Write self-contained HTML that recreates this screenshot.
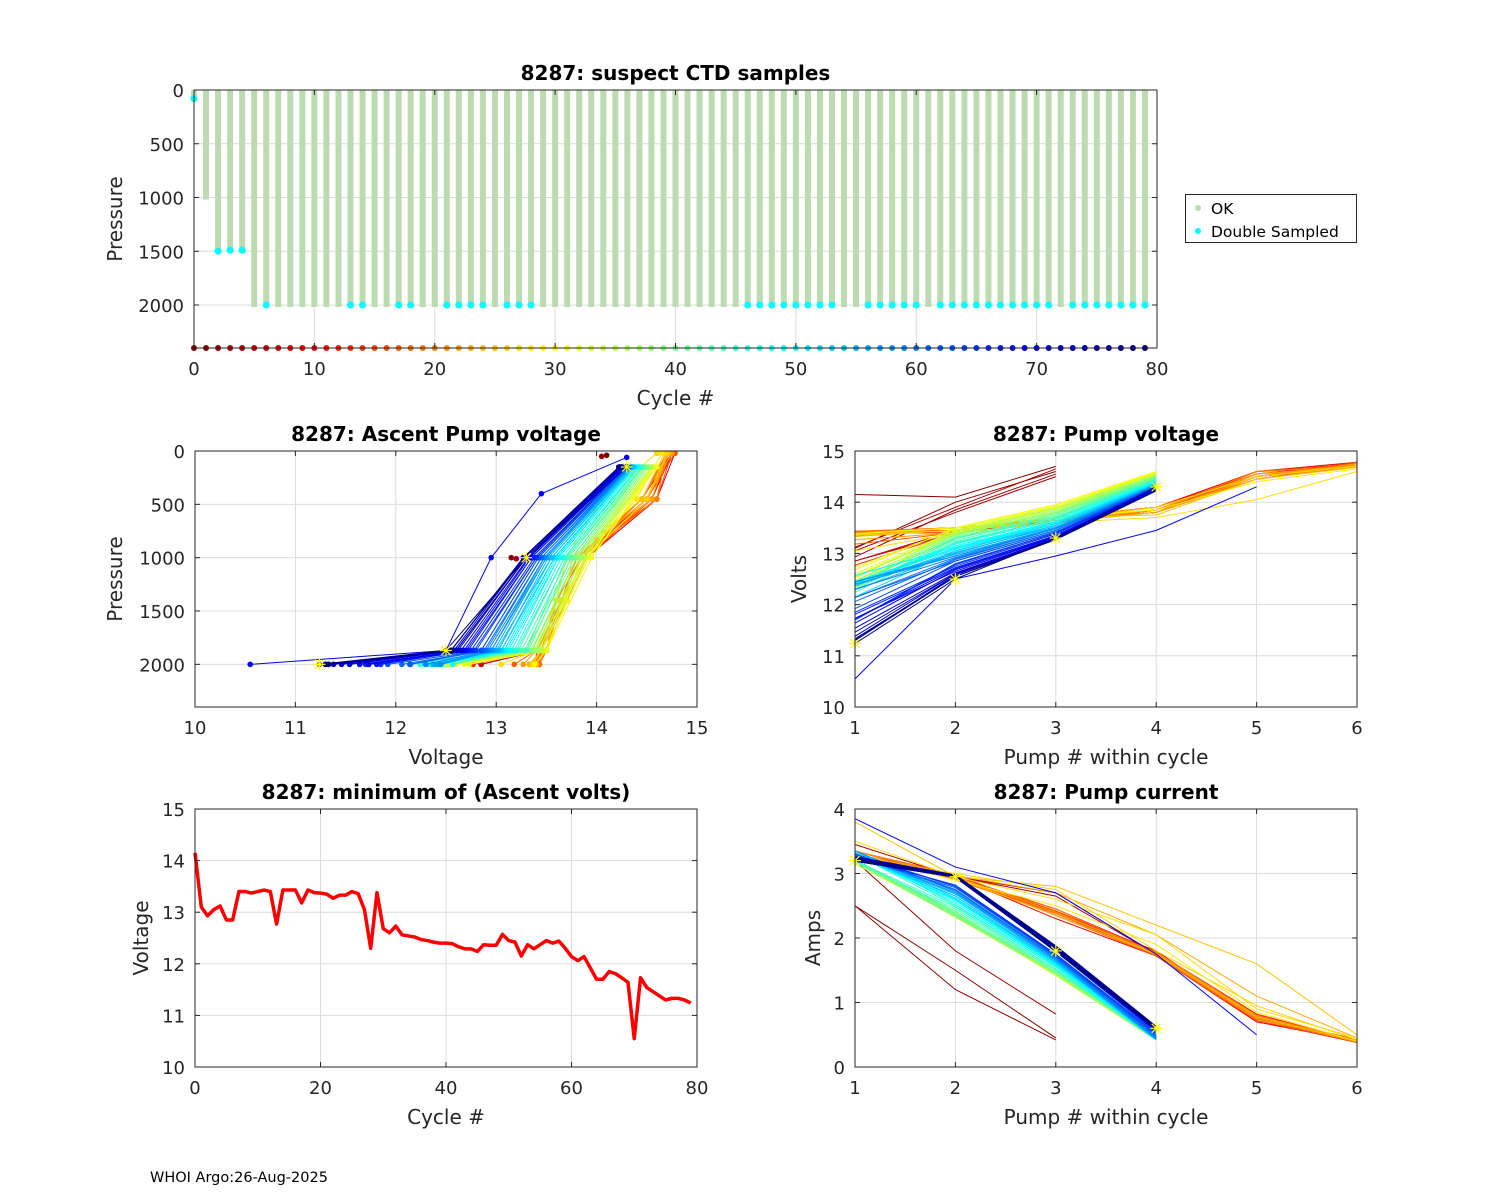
<!DOCTYPE html>
<html><head><meta charset="utf-8">
<style>
body{margin:0;background:#fff;}
svg{display:block;font-family:"DejaVu Sans","Liberation Sans",sans-serif;}
</style></head>
<body>
<svg id="fig" width="1500" height="1200" viewBox="0 0 1500 1200" xmlns="http://www.w3.org/2000/svg">
<rect width="1500" height="1200" fill="#fff"/>
<text x="150" y="1182" font-size="14.5" fill="#000">WHOI Argo:26-Aug-2025</text>
</svg>
<script>
// ===== data =====
const cycles = Array.from({length:80},(_,i)=>i);
const minVolts = [14.15,13.1,12.93,13.05,13.12,12.85,12.85,13.4,13.4,13.37,
13.4,13.43,13.4,12.77,13.43,13.43,13.43,13.18,13.43,13.38,
13.37,13.35,13.27,13.33,13.33,13.4,13.36,13.05,12.3,13.38,
12.68,12.6,12.73,12.56,12.54,12.52,12.47,12.45,12.42,12.4,
12.4,12.39,12.33,12.29,12.29,12.24,12.37,12.36,12.36,12.57,
12.45,12.42,12.15,12.37,12.29,12.37,12.45,12.4,12.44,12.3,
12.14,12.06,12.14,11.92,11.7,11.7,11.85,11.81,11.73,11.64,
10.55,11.73,11.54,11.46,11.38,11.3,11.33,11.33,11.3,11.24];
const maxPressure = [50,1000,1500,1500,1500].concat(Array(75).fill(2000));
const doubleSampled = [6,13,14,17,18,21,22,23,24,26,27,28,46,47,48,49,50,51,52,53,56,57,58,59,60,62,63,64,65,66,67,68,69,70,71,73,74,75,76,77,78,79];
const doubleEarly = [[0,80],[2,1500],[3,1490],[4,1490]];
const N = null;
const pumpV2 = [14.1,14.0,13.85,13.8,13.9,
13.45,13.4,13.5,13.45,13.5,13.4,13.45,13.5,13.4,13.45,
13.5,13.45,13.4,13.5,13.45,13.5,13.45,13.4,13.5,13.45,
13.5,13.45,13.4,13.5,
13.5,13.5,13.45,13.48,13.42,13.4,13.45,13.38,13.4,13.35,
13.36,13.3,13.32,13.28,13.25,13.3,13.22,13.2,13.18,13.15,
13.12,13.1,13.08,13.05,13.05,13.0,13.02,12.98,12.95,12.95,
12.92,12.9,12.88,12.85,12.85,12.8,12.78,12.75,12.72,12.7,
12.68,12.5,12.65,12.62,12.6,12.6,12.58,12.55,12.55,12.55,12.5];
const pumpV3 = [14.7,14.6,14.55,14.5,14.65,
13.6,13.65,13.7,13.6,13.65,13.7,13.6,13.65,13.7,13.6,
13.65,13.7,13.6,13.65,13.7,13.6,13.65,13.7,13.65,13.6,
13.7,13.65,13.6,13.7,
13.95,13.95,13.9,13.92,13.88,13.85,13.88,13.82,13.85,13.8,
13.8,13.78,13.75,13.75,13.72,13.7,13.68,13.68,13.65,13.62,
13.62,13.6,13.58,13.58,13.55,13.55,13.52,13.5,13.5,13.48,
13.48,13.45,13.45,13.42,13.42,13.4,13.4,13.38,13.35,13.35,
13.33,12.95,13.32,13.3,13.3,13.3,13.28,13.28,13.27,13.27,13.3];
const pumpV4 = [N,N,N,N,N,
13.85,13.8,13.9,13.85,13.8,13.9,13.85,13.8,13.9,13.85,
13.8,13.9,13.85,13.8,13.9,13.85,13.8,13.9,13.85,13.8,
13.75,13.9,13.7,13.85,
14.6,14.58,14.58,14.56,14.56,14.55,14.54,14.52,14.52,14.5,
14.5,14.48,14.48,14.46,14.45,14.45,14.43,14.42,14.42,14.4,
14.4,14.38,14.38,14.37,14.36,14.35,14.35,14.34,14.33,14.33,
14.32,14.32,14.31,14.3,14.3,14.29,14.28,14.28,14.27,14.27,
14.26,13.45,14.25,14.25,14.25,14.24,14.24,14.23,14.23,14.22,14.3];
const pumpV5 = [N,N,N,N,N,
14.55,14.5,14.6,14.5,14.55,14.6,14.5,14.45,14.55,14.5,
14.6,14.5,14.45,14.55,14.5,14.6,14.45,14.5,14.55,14.5,
14.45,14.5,14.05,14.4].concat(Array(41).fill(N),[14.3],Array(9).fill(N));
const pumpV6 = [N,N,N,N,N,
14.75,14.7,14.78,14.72,14.75,14.7,14.78,14.75,14.72,14.7,
14.75,14.78,14.7,14.72,14.75,14.7,14.72,14.75,14.7,14.72,
14.68,14.7,14.6,14.65].concat(Array(51).fill(N));
const pumpA1 = [2.5,2.5,3.2,3.45,3.3,
3.3,3.35,3.3,3.25,3.3,3.35,3.3,3.25,3.3,3.35,
3.3,3.25,3.3,3.35,3.3,3.25,3.3,3.35,3.3,3.25,
3.8,3.2,3.5,3.3,
3.2,3.18,3.2,3.22,3.18,3.2,3.15,3.2,3.22,3.18,3.2,3.2,3.18,3.22,3.2,3.18,3.2,
3.3,3.35,3.3,3.28,3.32,3.3,3.35,3.3,3.28,3.3,3.32,3.3,3.35,3.3,3.28,3.3,3.25,3.3,3.28,3.25,
3.22,3.2,3.22,3.2,3.85,3.22,3.2,3.25,3.22,3.2,3.22,3.25,3.2,3.2];
const pumpA2 = [1.5,1.2,1.8,2.95,2.95,
2.95,2.92,2.95,2.98,2.93,2.95,2.9,2.95,2.97,2.93,
2.95,2.92,2.95,2.98,2.93,2.95,2.9,2.95,2.97,2.93,
2.95,3.0,2.95,2.9,
2.35,2.33,2.38,2.35,2.32,2.36,2.34,2.38,2.35,2.33,2.4,2.36,2.34,2.38,2.42,2.45,2.48,
2.5,2.52,2.55,2.58,2.6,2.6,2.62,2.65,2.65,2.68,2.7,2.7,2.72,2.74,2.75,2.75,2.78,2.8,2.8,2.82,
2.95,2.95,2.97,2.95,3.1,2.96,2.95,2.97,2.95,2.96,2.95,2.97,2.96,2.95];
const pumpA3 = [0.45,0.42,0.82,2.65,2.7,
2.35,2.4,2.45,2.35,2.4,2.3,2.38,2.42,2.35,2.4,
2.38,2.42,2.35,2.4,2.45,2.35,2.38,2.4,2.7,2.35,
2.8,2.75,2.6,2.5,
1.42,1.45,1.43,1.46,1.44,1.42,1.45,1.47,1.44,1.46,1.45,1.48,1.47,1.5,1.5,1.52,1.52,
1.55,1.55,1.57,1.58,1.6,1.6,1.62,1.62,1.63,1.65,1.65,1.66,1.68,1.68,1.7,1.7,1.72,1.72,1.74,1.75,
1.8,1.82,1.82,1.84,2.7,1.84,1.85,1.85,1.86,1.85,1.86,1.87,1.86,1.8];
const pumpA4 = [N,N,N,1.75,1.75,
1.75,1.72,1.78,1.75,1.8,1.72,1.75,1.78,1.74,1.76,
1.75,1.78,1.72,1.75,1.76,1.74,1.78,1.75,2.05,1.75,
2.2,1.8,2.05,1.9,
0.42,0.43,0.42,0.44,0.43,0.42,0.43,0.44,0.42,0.43,0.42,0.44,0.43,0.42,0.43,0.44,0.42,
0.42,0.44,0.43,0.42,0.45,0.44,0.43,0.42,0.44,0.45,0.43,0.44,0.46,0.45,0.47,0.48,0.5,0.5,0.52,0.52,
0.55,0.56,0.57,0.58,1.75,0.58,0.58,0.6,0.6,0.58,0.6,0.62,0.6,0.6];
const pumpA5 = [N,N,N,0.75,0.75,
0.75,0.72,0.78,0.8,0.75,0.7,0.78,0.82,0.75,0.78,
0.76,0.8,0.72,0.75,0.78,0.74,0.8,0.76,1.1,0.78,
1.6,0.95,0.9,0.85].concat(Array(41).fill(N),[0.5],Array(9).fill(N));
const pumpA6 = [N,N,N,N,N,
0.4,0.38,0.4,0.42,0.38,0.4,0.39,0.41,0.4,0.38,
0.4,0.42,0.39,0.4,0.38,0.41,0.4,0.39,0.45,0.4,
0.5,0.42,0.45,0.4].concat(Array(51).fill(N));
const earlyAscentV = [14.1,13.15,14.05,13.2,14.6];
const earlyAscentP = [40,1000,50,1010,20];
const pumpPressure4 = [2000,1870,1000,150];
const pumpPressure5 = [2000,1870,1000,400,60];
const pumpPressure6 = [2000,1870,1400,1000,450,20];
const highlightCycle = 79;

// ===== helpers =====
const NS="http://www.w3.org/2000/svg";
const svg=document.getElementById('fig');
function el(tag,attrs,parent){const e=document.createElementNS(NS,tag);for(const k in attrs)e.setAttribute(k,attrs[k]);(parent||svg).appendChild(e);return e;}
function jetRev(c){const t=1-c/79;const f=v=>Math.max(0,Math.min(1,v));
 const r=f(1.5-Math.abs(4*t-3)),g=f(1.5-Math.abs(4*t-2)),b=f(1.5-Math.abs(4*t-1));
 return `rgb(${Math.round(r*255)},${Math.round(g*255)},${Math.round(b*255)})`;}
function makeAxes(name,box,xlim,ylim,xticks,yticks,revY,title,xlabel,ylabel,ylabelX){
 const g=el('g',{});
 
 
 const sx=v=>box.L+(v-xlim[0])/(xlim[1]-xlim[0])*(box.R-box.L);
 const sy=revY? v=>box.T+(v-ylim[0])/(ylim[1]-ylim[0])*(box.B-box.T)
              : v=>box.B-(v-ylim[0])/(ylim[1]-ylim[0])*(box.B-box.T);
 const grid=el('g',{},g);
 
 
 xticks.forEach(t=>el('line',{x1:sx(t),x2:sx(t),y1:box.T,y2:box.B,stroke:'#dcdcdc','stroke-width':1},grid));
 yticks.forEach(t=>el('line',{x1:box.L,x2:box.R,y1:sy(t),y2:sy(t),stroke:'#dcdcdc','stroke-width':1},grid));
 const plot=el('g',{},g);
 
 
 const frame=el('g',{},g);
 const finish=()=>{
  g.appendChild(frame);
  el('rect',{x:box.L,y:box.T,width:box.R-box.L,height:box.B-box.T,fill:'none',stroke:'#262626','stroke-width':1},frame);
  xticks.forEach(t=>{const x=sx(t);
   el('line',{x1:x,x2:x,y1:box.B,y2:box.B-5,stroke:'#262626'},frame);
   el('line',{x1:x,x2:x,y1:box.T,y2:box.T+5,stroke:'#262626'},frame);
   const tx=el('text',{x:x,y:box.B+27,'text-anchor':'middle','font-size':18,fill:'#262626'},frame);tx.textContent=t;
   
   });
  yticks.forEach(t=>{const y=sy(t);
   el('line',{x1:box.L,x2:box.L+5,y1:y,y2:y,stroke:'#262626'},frame);
   el('line',{x1:box.R,x2:box.R-5,y1:y,y2:y,stroke:'#262626'},frame);
   const tx=el('text',{x:box.L-10,y:y+7,'text-anchor':'end','font-size':18,fill:'#262626'},frame);tx.textContent=t;
   
   });
  const tt=el('text',{x:(box.L+box.R)/2,y:box.T-10,'text-anchor':'middle','font-size':20,'font-weight':'bold',fill:'#000'},frame);tt.textContent=title;
  
  
  const xl=el('text',{x:(box.L+box.R)/2,y:box.B+57,'text-anchor':'middle','font-size':20,fill:'#262626'},frame);xl.textContent=xlabel;
  
  
  const cy=(box.T+box.B)/2;
  const yl=el('text',{x:ylabelX,y:cy,'text-anchor':'middle','font-size':20,fill:'#262626',transform:`rotate(-90 ${ylabelX} ${cy})`},frame);yl.textContent=ylabel;
  
  
 };
 return {sx,sy,plot,finish};
}
function star(p,x,y,col){const s=6;
 el('line',{x1:x-s,x2:x+s,y1:y,y2:y,stroke:col,'stroke-width':1.2},p);
 el('line',{x1:x,x2:x,y1:y-s,y2:y+s,stroke:col,'stroke-width':1.2},p);
 el('line',{x1:x-4.5,x2:x+4.5,y1:y-4.5,y2:y+4.5,stroke:col,'stroke-width':1.2},p);
 el('line',{x1:x-4.5,x2:x+4.5,y1:y+4.5,y2:y-4.5,stroke:col,'stroke-width':1.2},p);}
function pumpList(arrs,c){const out=[];arrs.forEach(a=>{if(a[c]!==null&&a[c]!==undefined)out.push(a[c]);});return out;}
const voltArrs=[minVolts,pumpV2,pumpV3,pumpV4,pumpV5,pumpV6];
const ampArrs=[pumpA1,pumpA2,pumpA3,pumpA4,pumpA5,pumpA6];
function pressFor(n){return n===4?pumpPressure4:n===5?pumpPressure5:pumpPressure6;}

// ===== top: suspect CTD samples =====
(function(){
 const A=makeAxes('suspect-ctd-chart',{L:194,T:90,R:1157,B:348},[0,80],[0,2400],[0,10,20,30,40,50,60,70,80],[0,500,1000,1500,2000],true,'8287: suspect CTD samples','Cycle #','Pressure',122);
 cycles.forEach(c=>{
  const r=el('rect',{x:A.sx(c)-3,y:A.sy(0),width:6,height:A.sy(maxPressure[c])-A.sy(0)+2,fill:'#bddbb1'},A.plot);
  
  
 });
 doubleSampled.forEach(c=>{
  const d=el('circle',{cx:A.sx(c),cy:A.sy(maxPressure[c]),r:3.5,fill:'#00ffff'},A.plot);
  
  
 });
 doubleEarly.forEach(([c,p])=>{
  const d=el('circle',{cx:A.sx(c),cy:A.sy(p),r:3.5,fill:'#00ffff'},A.plot);
  
  
 });
 cycles.forEach(c=>{
  const d=el('circle',{cx:A.sx(c),cy:A.sy(2400),r:3,fill:jetRev(c)},A.plot);
  
  
 });
 A.finish();
 const lg=el('g',{});
 
 
 el('rect',{x:1185.5,y:194.5,width:171,height:48,fill:'#fff',stroke:'#262626'},lg);
 el('circle',{cx:1198,cy:208,r:3,fill:'#bddbb1'},lg);
 el('circle',{cx:1198,cy:231,r:3,fill:'#00ffff'},lg);
 const t1=el('text',{x:1211,y:214,'font-size':15.5,fill:'#000'},lg);t1.textContent='OK';
 
 
 const t2=el('text',{x:1211,y:237,'font-size':15.5,fill:'#000'},lg);t2.textContent='Double Sampled';
 
 
})();

// ===== mid-left: ascent pump voltage =====
(function(){
 const A=makeAxes('ascent-pump-voltage-chart',{L:195,T:451,R:697,B:707},[10,15],[0,2400],[10,11,12,13,14,15],[0,500,1000,1500,2000],true,'8287: Ascent Pump voltage','Voltage','Pressure',122);
 cycles.forEach(c=>{
  const col=jetRev(c);
  if(c<5){
   const d=el('circle',{cx:A.sx(earlyAscentV[c]),cy:A.sy(earlyAscentP[c]),r:2.8,fill:col},A.plot);
   
   
   return;
  }
  const v=pumpList(voltArrs,c);const pr=pressFor(v.length);
  const pts=v.map((x,i)=>[A.sx(x),A.sy(pr[i])]);
  const pl=el('polyline',{points:pts.map(p=>p.join(',')).join(' '),fill:'none',stroke:col,'stroke-width':1},A.plot);
  
  
  pts.forEach(p=>{const d=el('circle',{cx:p[0],cy:p[1],r:2.8,fill:col},A.plot);
   
   });
 });
 const v=pumpList(voltArrs,highlightCycle);const pr=pressFor(v.length);
 const pts=v.map((x,i)=>[A.sx(x),A.sy(pr[i])]);
 pts.forEach(p=>star(A.plot,p[0],p[1],'#ffff00'));
 A.finish();
})();

// ===== mid-right: pump voltage =====
(function(){
 const A=makeAxes('pump-voltage-chart',{L:855,T:451,R:1357,B:707},[1,6],[10,15],[1,2,3,4,5,6],[10,11,12,13,14,15],false,'8287: Pump voltage','Pump # within cycle','Volts',806);
 cycles.forEach(c=>{
  const v=pumpList(voltArrs,c);
  const pl=el('polyline',{points:v.map((x,i)=>A.sx(i+1)+','+A.sy(x)).join(' '),fill:'none',stroke:jetRev(c),'stroke-width':1},A.plot);
  
  
 });
 const v=pumpList(voltArrs,highlightCycle);
 v.forEach((x,i)=>star(A.plot,A.sx(i+1),A.sy(x),'#ffff00'));
 A.finish();
})();

// ===== bottom-left: minimum ascent volts =====
(function(){
 const A=makeAxes('min-ascent-volts-chart',{L:195,T:809,R:697,B:1067},[0,80],[10,15],[0,20,40,60,80],[10,11,12,13,14,15],false,'8287: minimum of (Ascent volts)','Cycle #','Voltage',148);
 const pl=el('polyline',{points:cycles.map(c=>A.sx(c)+','+A.sy(minVolts[c])).join(' '),fill:'none',stroke:'#ff0000','stroke-width':3.5,'stroke-linejoin':'round'},A.plot);
 
 
 A.finish();
})();

// ===== bottom-right: pump current =====
(function(){
 const A=makeAxes('pump-current-chart',{L:855,T:809,R:1357,B:1067},[1,6],[0,4],[1,2,3,4,5,6],[0,1,2,3,4],false,'8287: Pump current','Pump # within cycle','Amps',820);
 cycles.forEach(c=>{
  const a=pumpList(ampArrs,c);
  const pl=el('polyline',{points:a.map((x,i)=>A.sx(i+1)+','+A.sy(x)).join(' '),fill:'none',stroke:jetRev(c),'stroke-width':c>=66&&c!==70?2:1},A.plot);
  
  
 });
 const a=pumpList(ampArrs,highlightCycle);
 a.forEach((x,i)=>star(A.plot,A.sx(i+1),A.sy(x),'#ffff00'));
 A.finish();
})();
</script>
</body></html>
